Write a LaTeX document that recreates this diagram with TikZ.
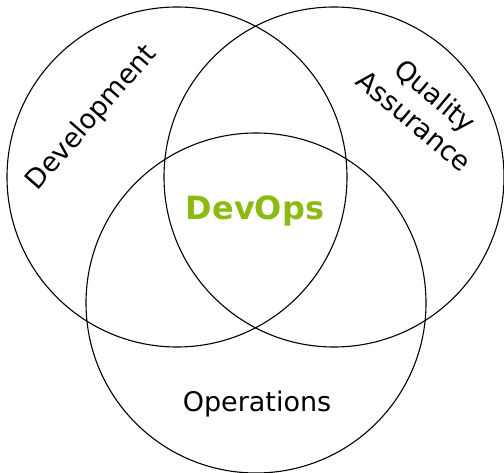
\documentclass[tikz,border=0pt]{standalone}
\usepackage{fontspec}
\setmainfont{DejaVu Sans}
\usepackage{tikz}
\definecolor{devopsgreen}{RGB}{141,186,16}
\tikzstyle{setcircle}=[circle,draw=black,line width=1.1pt,
                      inner sep=0pt,minimum size=340pt]
\tikzstyle{setlabel}=[inner sep=0pt,align=center,
                      font=\fontsize{27}{33}\selectfont]

\begin{document}
\begin{tikzpicture}[x=1pt,y=-1pt]
    \useasboundingbox (0,0) rectangle (504,473);
    \node (dev) at (177,177) [setcircle]{};
    \node (qa)  at (334,177) [setcircle]{};
    \node (ops) at (256,303) [setcircle]{};
    \node (devlabel) at (92,118) [setlabel,rotate=49]{Development};
    \node (qalabel)  at (425,108) [setlabel,rotate=-40]{Quality\\Assurance};
    \node (opslabel) at (257,411) [setlabel,anchor=base]{Operations};
    \node (devops)   at (255,220) [setlabel,anchor=base,text=devopsgreen,
                      font=\fontsize{32}{38}\selectfont\bfseries]{DevOps};
  \end{tikzpicture}
\end{document}
